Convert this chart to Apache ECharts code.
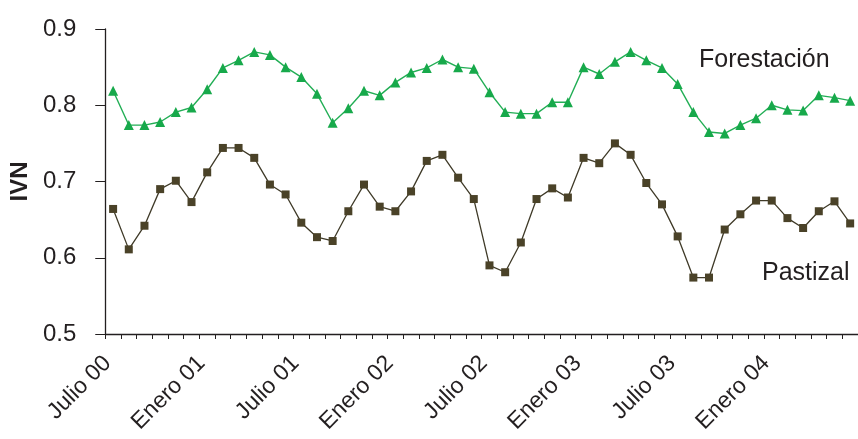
<!DOCTYPE html>
<html>
<head>
<meta charset="utf-8">
<script src="https://cdn.jsdelivr.net/npm/echarts@6/dist/echarts.min.js"></script>
<style>
html,body{margin:0;padding:0;background:#fff;}
#chart{width:858px;height:439px;}
</style>
</head>
<body>
<div id="chart"></div>
<script>
const categories = [
  "Julio 00","Agosto 00","Septiembre 00","Octubre 00","Noviembre 00","Diciembre 00",
  "Enero 01","Febrero 01","Marzo 01","Abril 01","Mayo 01","Junio 01",
  "Julio 01","Agosto 01","Septiembre 01","Octubre 01","Noviembre 01","Diciembre 01",
  "Enero 02","Febrero 02","Marzo 02","Abril 02","Mayo 02","Junio 02",
  "Julio 02","Agosto 02","Septiembre 02","Octubre 02","Noviembre 02","Diciembre 02",
  "Enero 03","Febrero 03","Marzo 03","Abril 03","Mayo 03","Junio 03",
  "Julio 03","Agosto 03","Septiembre 03","Octubre 03","Noviembre 03","Diciembre 03",
  "Enero 04","Febrero 04","Marzo 04","Abril 04","Mayo 04","Junio 04"
];

const forestacion = [
  0.819,0.774,0.774,0.778,0.791,0.797,
  0.821,0.849,0.859,0.870,0.866,0.850,
  0.837,0.815,0.777,0.796,0.819,0.813,
  0.830,0.843,0.849,0.860,0.850,0.848,
  0.817,0.791,0.789,0.789,0.804,0.804,
  0.850,0.841,0.857,0.870,0.859,0.849,
  0.828,0.791,0.765,0.763,0.774,0.783,
  0.800,0.794,0.793,0.813,0.810,0.806
];

const pastizal = [
  0.664,0.611,0.642,0.690,0.701,0.673,
  0.712,0.744,0.744,0.731,0.696,0.683,
  0.646,0.627,0.622,0.661,0.696,0.667,
  0.661,0.687,0.727,0.735,0.705,0.677,
  0.590,0.581,0.620,0.677,0.691,0.679,
  0.731,0.724,0.750,0.735,0.698,0.670,
  0.628,0.574,0.574,0.637,0.657,0.675,
  0.675,0.652,0.639,0.661,0.674,0.645
];

const yTicks = [0.5, 0.6, 0.7, 0.8, 0.9];

const textColor = '#231f20';
const fontFam = '"Liberation Sans", Arial, Helvetica, sans-serif';

const chart = echarts.init(document.getElementById('chart'), null, {renderer: 'canvas'});
chart.setOption({
  animation: false,
  backgroundColor: '#ffffff',
  grid: {left: 105, top: 29, width: 755, height: 305, containLabel: false},
  xAxis: {
    type: 'category',
    data: categories,
    boundaryGap: true,
    axisLine: {show: true, lineStyle: {color: textColor, width: 1.3}},
    axisTick: {show: true, interval: 0, length: 5, lineStyle: {color: textColor, width: 1}},
    axisLabel: {
      interval: 5, rotate: 45, margin: 20,
      padding: [0, 8, 0, 0],
      fontFamily: fontFam, fontSize: 23, color: textColor
    },
    splitLine: {show: false}
  },
  yAxis: {
    type: 'value',
    min: yTicks[0], max: yTicks[yTicks.length - 1], interval: 0.1,
    name: 'IVN',
    nameLocation: 'middle',
    nameGap: 61,
    nameRotate: 90,
    nameTextStyle: {fontFamily: fontFam, fontSize: 24, fontWeight: 'bold', color: textColor},
    axisLine: {show: true, lineStyle: {color: textColor, width: 1.3}},
    axisTick: {show: true, length: 10, lineStyle: {color: textColor, width: 1}},
    axisLabel: {
      margin: 29, fontFamily: fontFam, fontSize: 24, color: textColor,
      formatter: v => v.toFixed(1)
    },
    splitLine: {show: false}
  },
  series: [
    {
      name: 'Forestación',
      type: 'line',
      data: forestacion,
      symbol: 'triangle',
      symbolSize: 10,
      lineStyle: {color: '#22ae55', width: 1.4},
      itemStyle: {color: '#17a94b'}
    },
    {
      name: 'Pastizal',
      type: 'line',
      data: pastizal,
      symbol: 'rect',
      symbolSize: 8,
      lineStyle: {color: '#3f3a28', width: 1.3},
      itemStyle: {color: '#4a4228'}
    }
  ],
  graphic: [
    {
      type: 'text', left: 699, top: 48,
      style: {text: 'Forestación', font: '25px ' + fontFam, fill: textColor}
    },
    {
      type: 'text', left: 762, top: 261,
      style: {text: 'Pastizal', font: '25px ' + fontFam, fill: textColor}
    }
  ]
});
</script>
</body>
</html>
